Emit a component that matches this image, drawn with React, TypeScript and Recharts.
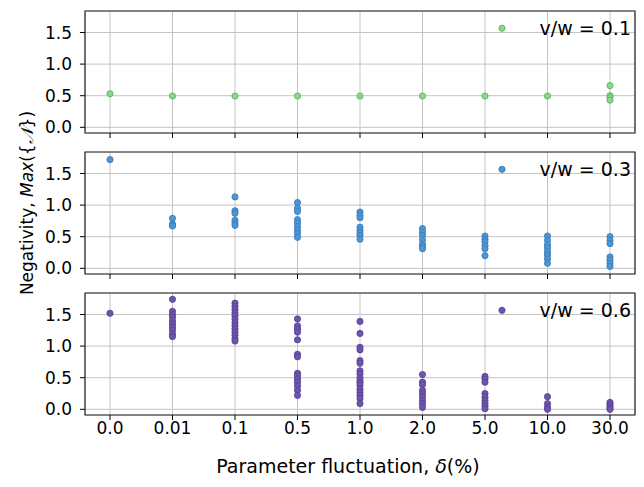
import { ScatterChart, Scatter, XAxis, YAxis, CartesianGrid, ReferenceArea, Legend } from 'recharts';

const FONT = '"DejaVu Sans", sans-serif';

// categorical x positions (fluctuation in %)
const categories = ['0.0', '0.01', '0.1', '0.5', '1.0', '2.0', '5.0', '10.0', '30.0'];
const yTicks = [0, 0.5, 1.0, 1.5];

// v/w = 0.1 — one list of samples per category
const lowRatio = [
  [0.53],
  [0.495],
  [0.495],
  [0.495],
  [0.495],
  [0.495],
  [0.495],
  [0.495],
  [0.66, 0.5, 0.47, 0.43],
];

// v/w = 0.3
const midRatio = [
  [1.72],
  [0.79, 0.7, 0.68, 0.67],
  [1.13, 0.91, 0.87, 0.76, 0.72, 0.68],
  [1.04, 0.95, 0.9, 0.77, 0.72, 0.66, 0.6, 0.55, 0.49],
  [0.89, 0.84, 0.8, 0.65, 0.6, 0.56, 0.52, 0.46],
  [0.63, 0.57, 0.52, 0.45, 0.38, 0.34, 0.31],
  [0.51, 0.46, 0.42, 0.36, 0.31, 0.2],
  [0.51, 0.44, 0.37, 0.32, 0.26, 0.21, 0.15, 0.08],
  [0.5, 0.44, 0.39, 0.18, 0.13, 0.08, 0.03],
];

// v/w = 0.6
const highRatio = [
  [1.52],
  [1.74, 1.55, 1.5, 1.46, 1.4, 1.35, 1.3, 1.25, 1.19, 1.15],
  [1.68, 1.63, 1.58, 1.53, 1.48, 1.43, 1.37, 1.32, 1.27, 1.22, 1.17, 1.12, 1.08],
  [1.43, 1.32, 1.27, 1.22, 1.1, 0.87, 0.83, 0.57, 0.53, 0.48, 0.43, 0.37, 0.3, 0.22],
  [1.39, 1.2, 0.98, 0.94, 0.77, 0.73, 0.61, 0.56, 0.5, 0.45, 0.42, 0.38, 0.32, 0.27, 0.22, 0.17, 0.09],
  [0.55, 0.43, 0.39, 0.3, 0.25, 0.2, 0.14, 0.09, 0.03],
  [0.52, 0.48, 0.43, 0.25, 0.19, 0.14, 0.09, 0.05, 0.01],
  [0.2, 0.09, 0.03, 0.0],
  [0.11, 0.08, 0.05, 0.02, 0.0],
];

const X_DOMAIN: [number, number] = [-0.4, 8.4];
const Y_DOMAIN: [number, number] = [-0.09, 1.84];

function XTitle(props: any) {
  const vb = props.viewBox || {};
  return (
    <text
      x={vb.x + vb.width / 2 - 12}
      y={vb.y + vb.height - 7}
      textAnchor="middle"
      fontSize={19}
      fontFamily={FONT}
      fill="#000"
    >
      Parameter fluctuation, <tspan fontStyle="italic">δ</tspan>(%)
    </text>
  );
}

function Panel({ values, label, fill, edge, top, bottomAxis }: {
  values: number[][]; label: string; fill: string; edge: string; top: number; bottomAxis?: boolean;
}) {
  const data = values.flatMap((col, i) => col.map((v) => ({ x: i, y: v })));
  const height = bottomAxis ? 194 : 135;

  return (
    <div style={{ position: 'absolute', left: 0, top }}>
      <ScatterChart width={644} height={height} margin={{ top: 5, right: 9, bottom: 2, left: 0 }}>
        <CartesianGrid stroke="#c4c4c4" strokeWidth={1} />
        <XAxis
          type="number"
          dataKey="x"
          domain={X_DOMAIN}
          ticks={categories.map((_, i) => i)}
          interval={0}
          allowDataOverflow
          height={bottomAxis ? 65 : 6}
          axisLine={false}
          tickSize={5}
          tickMargin={2}
          tickLine={{ stroke: '#000' }}
          tick={{ fill: '#000', fontSize: 17, fontFamily: FONT }}
          tickFormatter={(i: number) => (bottomAxis ? categories[i] : '')}
          label={bottomAxis ? { content: XTitle } : undefined}
        />
        <YAxis
          type="number"
          dataKey="y"
          domain={Y_DOMAIN}
          ticks={yTicks}
          allowDataOverflow
          width={85}
          axisLine={false}
          tickSize={5}
          tickMargin={8}
          tickLine={{ stroke: '#000' }}
          tick={{ fill: '#000', fontSize: 17, fontFamily: FONT }}
          tickFormatter={(v: number) => v.toFixed(1)}
        />
        <ReferenceArea
          x1={X_DOMAIN[0]}
          x2={X_DOMAIN[1]}
          y1={Y_DOMAIN[0]}
          y2={Y_DOMAIN[1]}
          fill="none"
          stroke="#262626"
          strokeWidth={1.2}
        />
        <Scatter
          data={data}
          isAnimationActive={false}
          shape={(p: any) => (
            <circle cx={p.cx} cy={p.cy} r={3.1} fill={fill} stroke={edge} strokeWidth={0.9} />
          )}
        />
        <Legend
          layout="horizontal"
          verticalAlign="middle"
          align="center"
          wrapperStyle={{ top: 7, left: 495, width: 140, height: 30 }}
          content={() => (
            <svg width={140} height={30}>
              <circle cx={7} cy={15.3} r={3.1} fill={fill} stroke={edge} strokeWidth={0.9} />
              <text x={136} y={21.5} textAnchor="end" fontSize={19} fontFamily={FONT} fill="#000">
                {label}
              </text>
            </svg>
          )}
        />
      </ScatterChart>
    </div>
  );
}

export default function App() {
  return (
    <div style={{ position: 'absolute', left: 0, top: 0, width: 644, height: 487, background: '#fff' }}>
      <Panel values={lowRatio} label="v/w = 0.1" fill="#8fd48f" edge="#5bb55b" top={6} />
      <Panel values={midRatio} label="v/w = 0.3" fill="#4f95d2" edge="#3a7dbd" top={147} />
      <Panel values={highRatio} label="v/w = 0.6" fill="#6c55aa" edge="#5a4396" top={288} bottomAxis />
      <div
        style={{
          position: 'absolute',
          left: 27,
          top: 203,
          transform: 'translate(-50%, -50%) rotate(-90deg)',
          whiteSpace: 'nowrap',
          fontFamily: FONT,
          fontSize: 17,
          color: '#000',
        }}
      >
        Negativity, <i>Max</i>({'{'}<i style={{ fontFamily: '"DejaVu Serif", serif' }}>𝒩</i>{'}'})
      </div>
    </div>
  );
}
